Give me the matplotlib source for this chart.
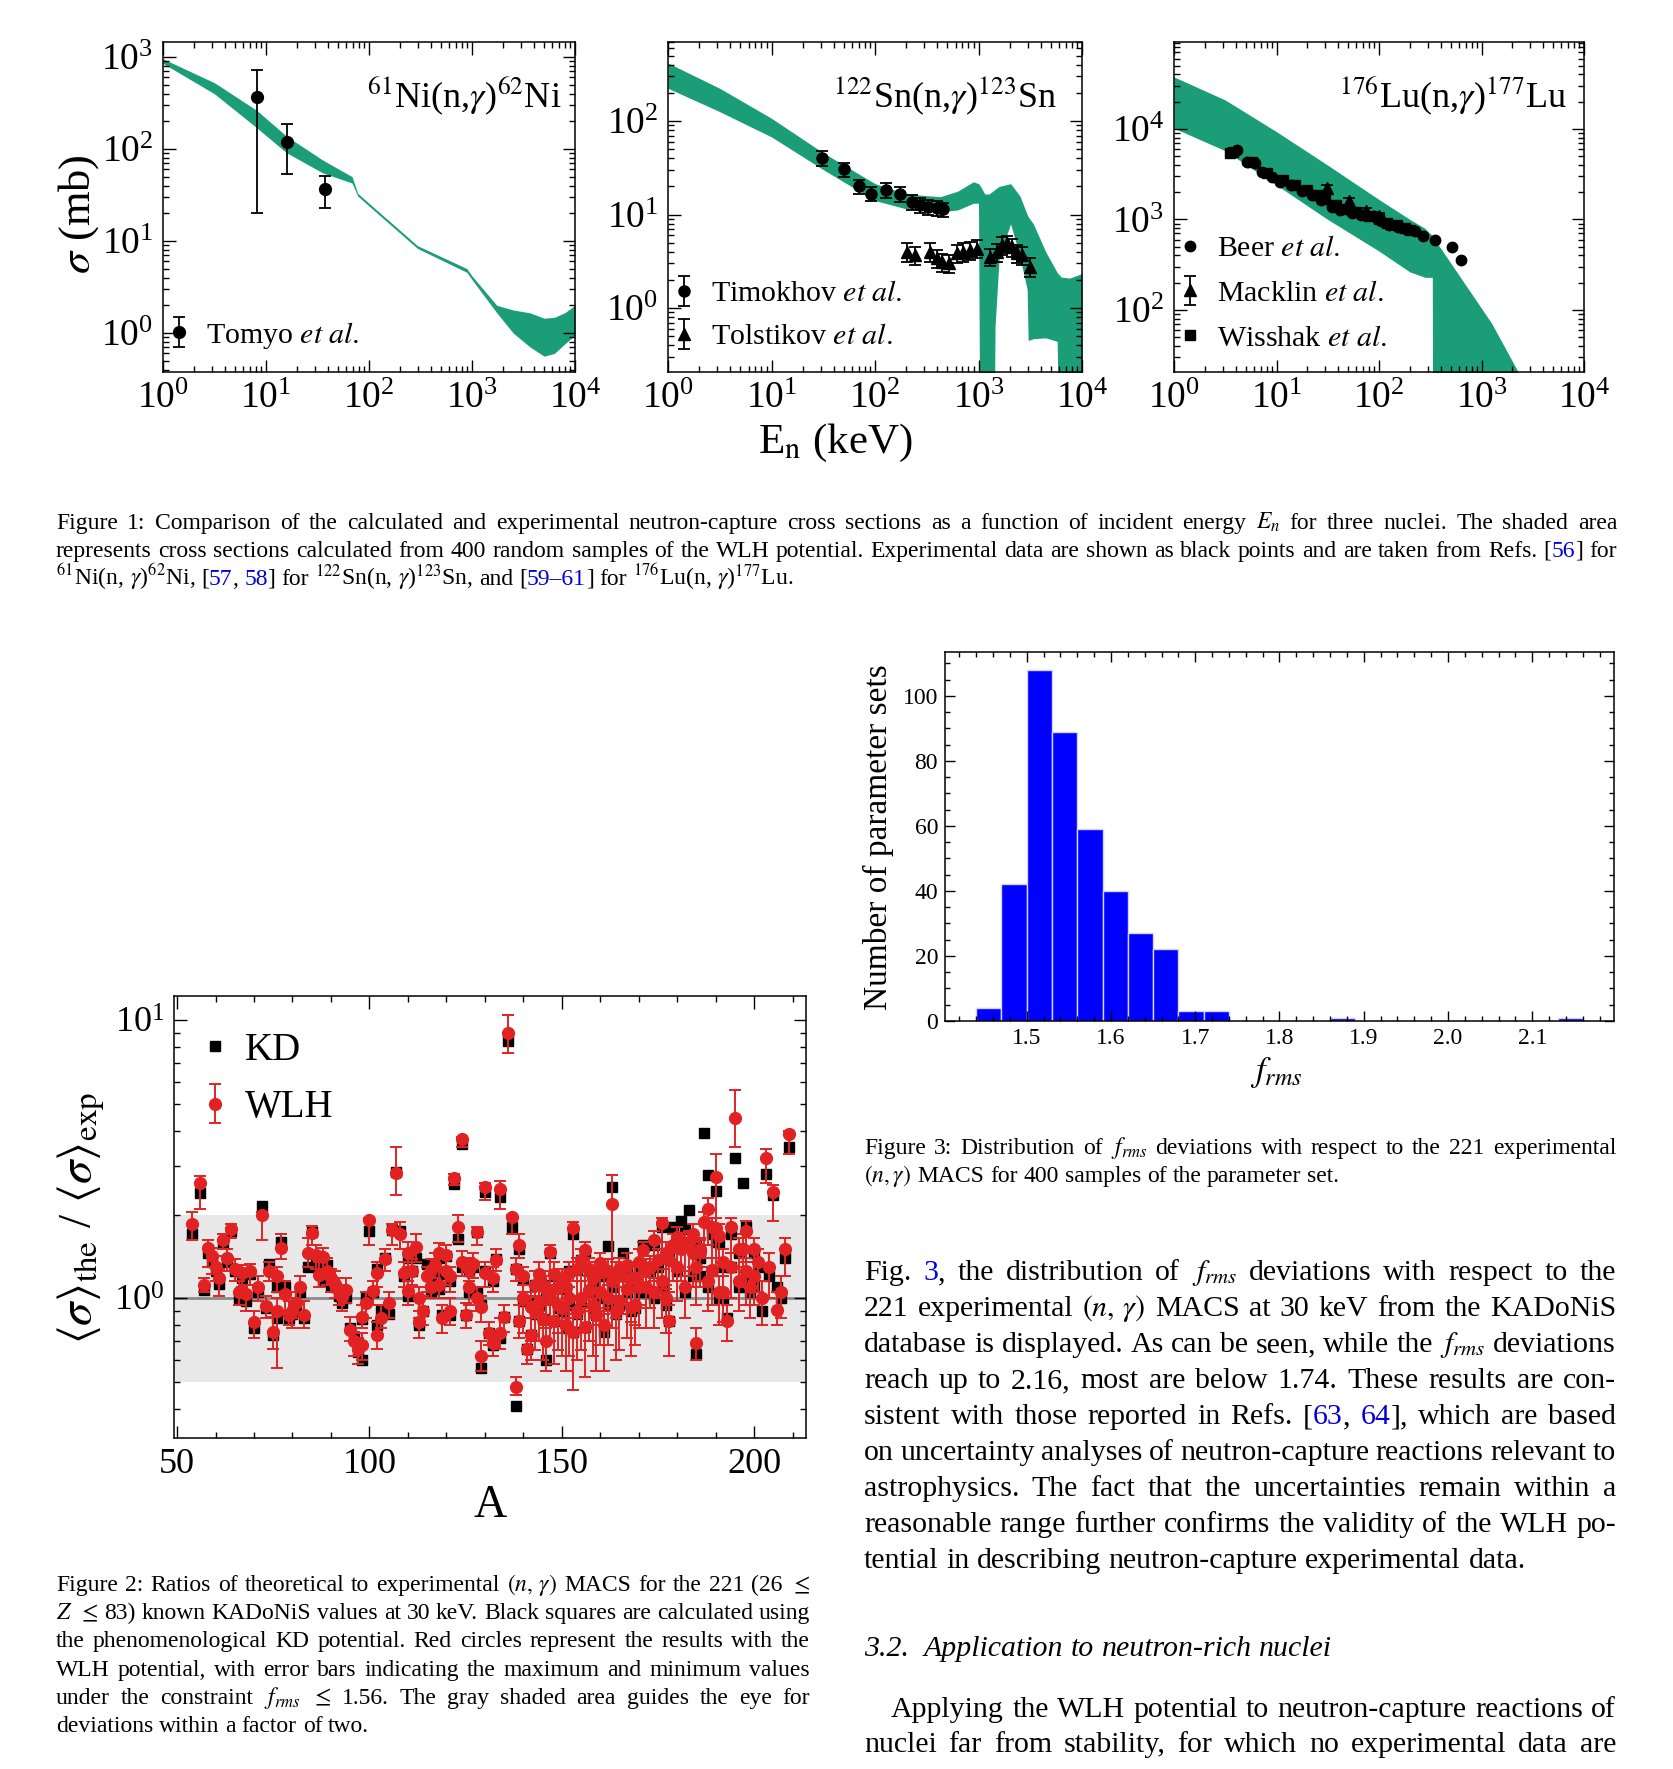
import matplotlib
matplotlib.use("Agg")
import numpy as np
import matplotlib.pyplot as plt
from matplotlib.ticker import LogLocator, MultipleLocator, NullFormatter

plt.rcParams["font.family"] = ["Liberation Serif", "DejaVu Serif"]
plt.rcParams["mathtext.fontset"] = "stix"

W, H = 1673, 1769
GREEN = "#1b9e77"
RED = "#e22222"
LINK = "#0000dd"

# ---------------- Figure 1 data (E in keV, sigma in mb) ----------------
ni_E = [1, 3.16, 8.13, 15.8, 35.5, 68.4, 72.4, 77.6, 100, 295, 891, 1000, 1740, 2510, 3630, 5010, 6310, 7940, 10000]
ni_up = [955, 525, 263, 138, 75.9, 50.1, 41.7, 33.1, 25.7, 8.91, 5.01, 4.17, 2.00, 1.78, 1.66, 1.45, 1.48, 1.66, 2.00]
ni_lo = [851, 398, 170, 91.2, 55.0, 42.7, 37.2, 30.9, 24.0, 8.32, 4.57, 3.80, 1.66, 1.00, 0.71, 0.56, 0.60, 0.76, 0.95]
tomyo_E = [8.1, 16.1, 37.4]
tomyo_s = [370, 118, 36.5]
tomyo_min = [20, 54, 23]
tomyo_max = [720, 186, 51]

sn_E = [1, 3.16, 10, 31.6, 100, 200, 427, 631, 891, 1000, 1047, 1148, 1259, 1380, 1445, 1585,
        2042, 2512, 2951, 3020, 3388, 4467, 5754, 6310, 7586, 10000]
sn_up = [417, 224, 107, 45.7, 21.4, 16.6, 15.5, 17.8, 22.4, 21.4, 20.0, 16.6, 16.6, 17.8, 18.6, 20.0,
         21.4, 15.8, 10.0, 9.5, 7.94, 3.98, 2.40, 2.14, 2.09, 2.34]
sn_lo = [224, 126, 67.6, 30.2, 14.1, 11.5, 10.7, 11.2, 13.2, 13.2, 1e-3, 1e-3, 1e-3, 1e-3, 0.63, 3.55,
         7.94, 3.55, 1.58, 0.45, 0.47, 0.48, 0.44, 1e-3, 1e-3, 1e-3]
timokhov_E = [30.5, 50, 70.6, 90.8, 127, 173, 226, 272, 327, 394, 457]
timokhov_s = [40.5, 30.4, 20.0, 16.7, 18.3, 16.5, 13.7, 12.6, 12.1, 11.7, 11.4]
timokhov_min = [33, 25, 16.5, 13.8, 15.0, 13.6, 11.3, 10.4, 10.0, 9.7, 9.5]
timokhov_max = [48, 36, 23.5, 19.8, 21.6, 19.5, 16.2, 14.9, 14.3, 13.8, 13.4]
tolstikov_E = [202, 243, 340, 394, 441, 522, 615, 713, 828, 957, 1290, 1500, 1680, 1870, 2100, 2350, 2620, 3160]
tolstikov_s = [3.98, 3.69, 3.98, 3.39, 3.12, 3.00, 3.84, 4.00, 4.17, 4.33, 3.54, 3.98, 4.70, 4.90, 4.50, 3.84, 3.70, 2.77]
tolstikov_min = [3.1, 2.9, 3.1, 2.65, 2.45, 2.35, 3.0, 3.1, 3.25, 3.4, 2.8, 3.1, 3.7, 3.85, 3.5, 3.0, 2.9, 2.15]
tolstikov_max = [4.9, 4.5, 4.9, 4.15, 3.8, 3.65, 4.7, 4.9, 5.1, 5.3, 4.3, 4.85, 5.7, 5.95, 5.5, 4.7, 4.5, 3.4]

lu_E = [1, 3.16, 10, 31.6, 100, 200, 282, 331, 339, 631, 1259, 2291, 3162]
lu_up = [37600, 20900, 9330, 3980, 1660, 1000, 794, 661, 631, 224, 70.8, 20.4, 11.2]
lu_lo = [10200, 5750, 2400, 1000, 447, 263, 229, 229, 1e-3, 1e-3, 1e-3, 1e-3, 1e-3]
beer_E = [4.1, 5.2, 6.2, 7.2, 9.1, 10.9, 13.7, 17.9, 22.4, 27, 35, 42, 55, 67, 90, 105, 126, 153, 183, 222, 270, 355, 520, 630]
beer_s = [5900, 4360, 4170, 3370, 2970, 2620, 2410, 2040, 1880, 1650, 1380, 1260, 1170, 1120, 1080, 950, 870, 830,
          780, 740, 650, 590, 490, 355]
wisshak_E = [3.5, 3.8, 5.8, 8.0, 11.5, 15, 20, 25, 30, 38, 48, 60, 80, 100, 120, 150, 180, 200]
wisshak_s = [5370, 5600, 4300, 3300, 2700, 2400, 2100, 1850, 1700, 1450, 1300, 1200, 1100, 1000, 920, 860, 800, 760]
macklin_E = [31.4, 51, 75, 100]
macklin_s = [2200, 1580, 1230, 1100]
macklin_min = [2030, 1460, 1135, 1015]
macklin_max = [2380, 1710, 1330, 1190]

# ---------------- Figure 2 data ----------------
mass_A = [54, 56, 57, 58, 59, 60, 61, 62, 63, 64,
          65, 66, 67, 68, 69, 70, 71, 72, 73, 74,
          75, 76, 76, 77, 78, 79, 80, 81, 82, 83,
          84, 85, 86, 87, 88, 89, 90, 91, 92, 93,
          94, 95, 96, 97, 98, 98, 99, 100, 101, 102,
          102, 103, 104, 105, 106, 107, 108, 109, 110, 111,
          112, 113, 113, 114, 115, 116, 117, 118, 119, 120,
          121, 121, 122, 123, 124, 124, 125, 126, 127, 128,
          129, 129, 130, 130, 131, 132, 133, 134, 134, 135,
          136, 137, 138, 138, 139, 139, 140, 141, 142, 142,
          143, 144, 145, 145, 146, 147, 147, 148, 149, 150,
          150, 151, 152, 152, 153, 153, 154, 155, 155, 156,
          156, 157, 158, 159, 160, 160, 161, 162, 163, 163,
          164, 165, 166, 167, 168, 169, 170, 171, 172, 173,
          174, 175, 176, 176, 177, 178, 178, 179, 180, 181,
          182, 183, 184, 185, 185, 186, 187, 188, 189, 190,
          190, 191, 192, 193, 194, 195, 196, 197, 198, 199,
          200, 201, 202, 203, 204, 205, 206, 207, 208, 209,
          110, 116, 118, 120, 126, 128, 132, 140, 143, 144,
          146, 148, 149, 151, 154, 157, 158, 159, 161, 162,
          164, 165, 167, 168, 169, 170, 172, 174, 177, 180,
          182, 184, 186, 188, 189, 191, 192, 194, 196, 198, 200]
kd_ratio = [1.70, 2.40, 1.07, 1.45, 1.35, 1.25, 1.13, 1.60, 1.35, 1.75,
            1.25, 1.00, 1.18, 0.98, 1.22, 0.78, 1.05, 2.15, 0.92, 1.33,
            0.74, 1.10, 0.85, 1.60, 1.10, 0.85, 0.88, 0.90, 1.05, 0.85,
            1.30, 1.73, 1.40, 1.30, 1.15, 1.32, 1.12, 1.10, 1.02, 0.96,
            1.00, 0.78, 0.72, 0.64, 0.60, 0.84, 1.00, 1.75, 1.05, 1.28,
            0.80, 0.90, 1.40, 0.88, 1.76, 2.84, 1.75, 1.20, 1.40, 1.25,
            1.40, 0.82, 0.80, 0.90, 1.33, 1.20, 1.25, 1.40, 0.87, 1.42,
            0.87, 1.15, 2.58, 1.64, 3.60, 1.30, 0.87, 1.05, 1.30, 1.73,
            0.56, 0.95, 2.42, 1.25, 0.75, 0.68, 1.39, 2.31, 0.72, 0.86,
            8.40, 1.80, 0.41, 1.28, 1.50, 0.83, 1.18, 0.66, 0.96, 0.74,
            1.12, 0.95, 0.84, 1.12, 0.60, 1.45, 1.00, 0.83, 1.09, 0.90,
            1.12, 0.78, 1.25, 0.95, 1.70, 0.76, 1.26, 1.37, 0.98, 1.45,
            0.79, 1.05, 1.15, 0.87, 1.32, 1.00, 0.76, 1.54, 2.51, 1.10,
            1.20, 0.95, 1.46, 1.05, 0.90, 1.15, 1.30, 1.56, 1.05, 1.25,
            1.55, 1.30, 1.80, 1.10, 0.95, 1.45, 0.83, 1.80, 1.60, 1.90,
            1.78, 2.07, 1.20, 0.63, 1.55, 1.20, 3.93, 2.77, 1.25, 2.44,
            1.60, 1.00, 1.30, 0.85, 1.30, 3.20, 1.10, 2.60, 1.20, 1.05,
            1.45, 1.30, 0.90, 2.80, 1.20, 2.36, 1.10, 1.00, 1.40, 3.50,
            1.02, 1.05, 1.08, 1.22, 1.25, 1.05, 1.15, 0.98, 0.88, 1.20,
            1.05, 1.20, 0.92, 1.08, 0.88, 1.25, 0.92, 1.20, 1.20, 0.95,
            0.88, 1.25, 1.30, 1.15, 0.92, 1.05, 1.30, 1.00, 1.40, 1.25,
            1.05, 1.60, 1.40, 1.10, 1.70, 1.60, 1.00, 1.70, 1.45, 1.80, 1.10]
wlh_ratio = [1.85, 2.60, 1.12, 1.52, 1.42, 1.30, 1.18, 1.62, 1.40, 1.78,
             1.28, 1.05, 1.23, 1.04, 1.25, 0.82, 1.10, 2.00, 0.94, 1.25,
             0.76, 1.20, 0.90, 1.52, 1.04, 0.87, 0.90, 0.96, 1.10, 0.87,
             1.45, 1.72, 1.43, 1.21, 1.41, 1.25, 1.18, 1.13, 1.06, 1.01,
             1.07, 0.77, 0.70, 0.66, 0.68, 0.86, 0.96, 1.92, 1.06, 1.23,
             0.74, 0.85, 1.39, 0.96, 1.76, 2.81, 1.70, 1.23, 1.45, 1.25,
             1.53, 1.00, 0.82, 0.90, 1.20, 1.26, 1.32, 1.45, 0.85, 1.43,
             0.90, 1.20, 2.70, 1.81, 3.74, 1.35, 0.87, 1.10, 1.33, 1.73,
             0.62, 0.93, 2.51, 1.23, 0.75, 0.69, 1.37, 2.47, 0.75, 0.86,
             9.00, 1.96, 0.48, 1.28, 1.55, 0.83, 1.20, 0.66, 0.93, 0.74,
             1.12, 0.97, 0.84, 1.12, 0.70, 1.47, 1.00, 0.83, 1.09, 0.92,
             1.15, 0.80, 1.23, 1.00, 1.79, 0.76, 1.28, 1.37, 1.00, 1.49,
             0.79, 1.07, 1.18, 0.87, 1.34, 1.05, 0.80, 1.25, 2.18, 1.15,
             1.22, 0.98, 1.20, 1.08, 0.93, 1.18, 1.35, 1.49, 1.10, 1.30,
             1.62, 1.37, 1.87, 1.15, 1.00, 1.37, 0.83, 1.55, 1.66, 1.50,
             1.57, 1.60, 1.45, 0.69, 1.30, 1.47, 1.88, 2.10, 1.26, 2.74,
             1.79, 1.05, 1.35, 0.83, 1.30, 4.44, 1.15, 1.50, 1.25, 1.10,
             1.50, 1.35, 1.00, 3.20, 1.30, 2.42, 0.91, 1.05, 1.50, 3.90,
             1.06, 1.10, 1.12, 1.25, 1.27, 1.00, 1.18, 1.00, 0.90, 1.22,
             1.08, 1.22, 0.95, 1.10, 0.90, 1.28, 0.95, 1.22, 1.25, 1.00,
             0.90, 1.28, 1.32, 1.18, 0.95, 1.10, 1.25, 1.05, 1.45, 1.30,
             1.10, 1.70, 1.50, 1.15, 1.80, 1.68, 1.05, 1.80, 1.50, 1.75, 1.20]
wlh_min = [1.62, 2.10, 1.05, 1.30, 1.22, 1.15, 1.02, 1.50, 1.25, 1.65,
           1.15, 0.95, 1.10, 0.90, 1.12, 0.72, 0.98, 1.62, 0.85, 1.15,
           0.66, 1.05, 0.56, 1.38, 0.90, 0.80, 0.78, 0.85, 0.98, 0.78,
           1.30, 1.55, 1.28, 1.10, 1.22, 1.12, 1.05, 1.00, 0.95, 0.90,
           0.96, 0.70, 0.62, 0.58, 0.60, 0.78, 0.85, 1.55, 0.95, 1.10,
           0.66, 0.78, 1.25, 0.85, 1.55, 2.35, 1.50, 1.10, 1.30, 1.12,
           1.35, 0.85, 0.72, 0.80, 1.05, 1.12, 1.18, 1.30, 0.75, 1.30,
           0.80, 1.05, 2.55, 1.60, 3.50, 1.20, 0.78, 0.95, 1.18, 1.55,
           0.55, 0.82, 2.25, 1.10, 0.68, 0.62, 1.25, 2.10, 0.66, 0.76,
           7.60, 1.70, 0.45, 1.15, 1.40, 0.72, 1.05, 0.58, 0.70, 0.60,
           0.85, 0.70, 0.60, 0.85, 0.55, 1.05, 0.70, 0.58, 0.75, 0.62,
           0.80, 0.55, 0.85, 0.62, 1.15, 0.47, 0.85, 0.95, 0.65, 1.00,
           0.52, 0.70, 0.80, 0.55, 0.90, 0.68, 0.55, 0.90, 1.00, 0.78,
           0.85, 0.65, 0.88, 0.72, 0.62, 0.80, 0.95, 1.10, 0.78, 0.92,
           1.15, 1.00, 1.35, 0.85, 0.75, 1.05, 0.62, 1.15, 1.25, 1.15,
           1.20, 1.20, 1.10, 0.60, 0.95, 1.10, 1.40, 1.55, 0.95, 1.78,
           1.30, 0.80, 1.05, 0.70, 1.00, 3.50, 0.90, 1.10, 0.95, 0.85,
           1.15, 1.05, 0.80, 2.60, 1.00, 1.90, 0.80, 0.85, 1.20, 3.30,
           0.95, 1.00, 1.00, 1.12, 1.15, 0.90, 1.05, 0.75, 0.65, 0.90,
           0.78, 0.85, 0.65, 0.78, 0.60, 0.90, 0.62, 0.85, 0.88, 0.68,
           0.60, 0.90, 0.95, 0.82, 0.68, 0.78, 0.92, 0.78, 1.08, 0.98,
           0.85, 1.30, 1.15, 0.90, 1.40, 1.30, 0.82, 1.45, 1.15, 1.35, 0.95]
wlh_max = [2.04, 2.75, 1.18, 1.62, 1.52, 1.42, 1.28, 1.70, 1.50, 1.85,
           1.38, 1.15, 1.32, 1.12, 1.33, 0.90, 1.20, 2.05, 1.02, 1.35,
           0.86, 1.30, 1.00, 1.70, 1.15, 0.98, 1.00, 1.05, 1.20, 0.98,
           1.65, 1.82, 1.55, 1.35, 1.52, 1.40, 1.28, 1.25, 1.18, 1.12,
           1.18, 0.86, 0.76, 0.72, 0.75, 0.95, 1.05, 1.95, 1.15, 1.35,
           0.82, 0.95, 1.50, 1.05, 1.85, 3.50, 1.88, 1.35, 1.60, 1.38,
           1.70, 1.10, 0.90, 1.02, 1.30, 1.38, 1.45, 1.58, 0.95, 1.55,
           1.00, 1.30, 2.80, 2.00, 3.80, 1.48, 0.96, 1.20, 1.45, 1.80,
           0.70, 1.02, 2.60, 1.35, 0.82, 0.76, 1.50, 2.65, 0.85, 0.95,
           10.40, 2.00, 0.52, 1.40, 1.70, 0.95, 1.30, 0.75, 1.05, 0.85,
           1.25, 1.10, 0.95, 1.25, 0.80, 1.55, 1.12, 0.95, 1.20, 1.05,
           1.28, 0.92, 1.35, 1.10, 1.88, 0.88, 1.40, 1.50, 1.15, 1.60,
           0.92, 1.20, 1.30, 1.00, 1.45, 1.18, 0.92, 1.38, 2.78, 1.28,
           1.35, 1.10, 1.32, 1.20, 1.05, 1.30, 1.50, 1.60, 1.22, 1.42,
           1.75, 1.50, 1.95, 1.28, 1.12, 1.50, 0.95, 1.70, 1.80, 1.65,
           1.72, 1.75, 1.60, 0.78, 1.45, 1.62, 2.05, 2.30, 1.40, 3.31,
           1.95, 1.20, 1.50, 0.95, 1.45, 5.60, 1.30, 1.70, 1.40, 1.25,
           1.65, 1.50, 1.15, 3.45, 1.45, 2.55, 1.05, 1.20, 1.65, 4.00,
           1.15, 1.22, 1.25, 1.38, 1.40, 1.10, 1.30, 1.12, 1.02, 1.35,
           1.20, 1.35, 1.05, 1.22, 1.02, 1.40, 1.08, 1.35, 1.38, 1.12,
           1.02, 1.40, 1.45, 1.30, 1.08, 1.22, 1.38, 1.18, 1.60, 1.45,
           1.25, 1.85, 1.65, 1.30, 1.95, 1.85, 1.20, 1.95, 1.65, 1.90, 1.35]
factor_two = (0.5, 2.0)

# ---------------- Figure 3 data ----------------
frms_left = [1.44, 1.47, 1.50, 1.53, 1.56, 1.59, 1.62, 1.65, 1.68, 1.71, 1.86, 2.13]
frms_count = [4, 42, 108, 89, 59, 40, 27, 22, 3, 3, 1, 1]
bin_width = 0.03

# ---------------- page text ----------------
caption1 = [
    "Figure 1: Comparison of the calculated and experimental neutron-capture cross sections as a function of incident energy $E_n$ for three nuclei. The shaded area",
    "represents cross sections calculated from 400 random samples of the WLH potential. Experimental data are shown as black points and are taken from Refs. [§56§] for",
    "$^{61}$Ni(n, $\\gamma$)$^{62}$Ni, [§57§, §58§] for $^{122}$Sn(n, $\\gamma$)$^{123}$Sn, and [§59–61§] for $^{176}$Lu(n, $\\gamma$)$^{177}$Lu.",
]
caption2 = [
    "Figure 2: Ratios of theoretical to experimental $(n,\\,\\gamma)$ MACS for the 221 (26 $\\leq$",
    "$Z$ $\\leq$ 83) known KADoNiS values at 30 keV. Black squares are calculated using",
    "the phenomenological KD potential. Red circles represent the results with the",
    "WLH potential, with error bars indicating the maximum and minimum values",
    "under the constraint $f_{rms}$ $\\leq$ 1.56. The gray shaded area guides the eye for",
    "deviations within a factor of two.",
]
caption3 = [
    "Figure 3: Distribution of $f_{rms}$ deviations with respect to the 221 experimental",
    "$(n,\\gamma)$ MACS for 400 samples of the parameter set.",
]
body = [
    "Fig. §3§, the distribution of $f_{rms}$ deviations with respect to the",
    "221 experimental $(n,\\,\\gamma)$ MACS at 30 keV from the KADoNiS",
    "database is displayed. As can be seen, while the $f_{rms}$ deviations",
    "reach up to 2.16, most are below 1.74. These results are con-",
    "sistent with those reported in Refs. [§63§, §64§], which are based",
    "on uncertainty analyses of neutron-capture reactions relevant to",
    "astrophysics. The fact that the uncertainties remain within a",
    "reasonable range further confirms the validity of the WLH po-",
    "tential in describing neutron-capture experimental data.",
]
heading = "3.2.  Application to neutron-rich nuclei"
body2 = [
    "Applying the WLH potential to neutron-capture reactions of",
    "nuclei far from stability, for which no experimental data are",
]

fig = plt.figure(figsize=(W / 100, H / 100), dpi=100)


def frame(l, t, r, b):
    return fig.add_axes([l / W, 1 - b / H, (r - l) / W, (b - t) / H])


def ticks(ax, size, pad):
    ax.tick_params(which="both", direction="in", top=True, right=True, width=1.0,
                   labelsize=size, pad=pad)
    ax.tick_params(which="major", length=9)
    ax.tick_params(which="minor", length=4.5)
    for s in ax.spines.values():
        s.set_linewidth(1.1)


def logaxes(ax, ylim):
    ax.set_xscale("log")
    ax.set_yscale("log")
    ax.set_xlim(1, 1e4)
    ax.set_ylim(*ylim)
    for axis in (ax.xaxis, ax.yaxis):
        axis.set_major_locator(LogLocator(base=10, numticks=20))
        axis.set_minor_locator(LogLocator(base=10, subs=np.arange(2, 10), numticks=20))
        axis.set_minor_formatter(NullFormatter())
    ticks(ax, 27, 7)


def errs(vals, lo, hi):
    return [[v - a for v, a in zip(vals, lo)], [b - v for v, b in zip(vals, hi)]]


ebar = dict(color="k", ls="none", capsize=4, elinewidth=1.3, capthick=1.3)
leg = dict(frameon=False, fontsize=21.5, handlelength=1.1, handletextpad=0.33,
           borderpad=0, borderaxespad=0, loc="center left")

# panel 1: Ni
ax = frame(163, 42, 575, 372)
logaxes(ax, (0.377, 1455))
ax.fill_between(ni_E, ni_lo, ni_up, color=GREEN, lw=0)
ax.errorbar(tomyo_E, tomyo_s, yerr=errs(tomyo_s, tomyo_min, tomyo_max), marker="o", ms=8.5,
            label=r"Tomyo $\mathit{et\ al.}$", **ebar)
ax.legend(bbox_to_anchor=(0.0, 0.112), **leg)
ax.text(0.968, 0.836, r"$^{61}$Ni(n,$\gamma$)$^{62}$Ni", transform=ax.transAxes, ha="right", va="center", fontsize=26)

# panel 2: Sn
ax = frame(668, 42, 1082, 372)
logaxes(ax, (0.207, 700))
ax.fill_between(sn_E, sn_lo, sn_up, color=GREEN, lw=0)
ax.errorbar(timokhov_E, timokhov_s, yerr=errs(timokhov_s, timokhov_min, timokhov_max), marker="o", ms=8,
            label=r"Timokhov $\mathit{et\ al.}$", **ebar)
ax.errorbar(tolstikov_E, tolstikov_s, yerr=errs(tolstikov_s, tolstikov_min, tolstikov_max), marker="^", ms=8,
            label=r"Tolstikov $\mathit{et\ al.}$", **ebar)
ax.legend(bbox_to_anchor=(0.0, 0.172), labelspacing=0.55, **leg)
ax.text(0.940, 0.836, r"$^{122}$Sn(n,$\gamma$)$^{123}$Sn", transform=ax.transAxes, ha="right", va="center", fontsize=26)

# panel 3: Lu
ax = frame(1174, 42, 1584, 372)
logaxes(ax, (20.6, 91400))
ax.fill_between(lu_E, lu_lo, lu_up, color=GREEN, lw=0)
h1, = ax.plot(beer_E, beer_s, "o", color="k", ms=7.5)
h3, = ax.plot(wisshak_E, wisshak_s, "s", color="k", ms=6.5)
h2 = ax.errorbar(macklin_E, macklin_s, yerr=errs(macklin_s, macklin_min, macklin_max), marker="^", ms=8, **ebar)
ax.legend([h1, h2, h3], [r"Beer $\mathit{et\ al.}$", r"Macklin $\mathit{et\ al.}$", r"Wisshak $\mathit{et\ al.}$"],
          bbox_to_anchor=(0.0, 0.238), labelspacing=0.6, **leg)
ax.text(0.958, 0.836, r"$^{176}$Lu(n,$\gamma$)$^{177}$Lu", transform=ax.transAxes, ha="right", va="center", fontsize=26)

fig.text(835 / W, 1 - 443 / H, r"E$_{\rm n}$ (keV)", ha="center", va="center", fontsize=31)
fig.text(79 / W, 1 - 214 / H, r"$\sigma$ (mb)", ha="center", va="center", rotation=90, fontsize=32)

# ---------------- Figure 2 ----------------
ax = frame(174, 996, 806, 1438)
ax.set_yscale("log")
ax.set_xlim(49.2, 213.5)
ax.set_ylim(0.315, 12.2)
ax.axhspan(factor_two[0], factor_two[1], color="#e8e8e8", lw=0, zorder=0)
ax.axhline(1.0, color="#8a8a8a", lw=2, zorder=1)
ax.plot(mass_A, kd_ratio, "s", color="k", ms=7.5, zorder=2, label="KD")
ax.errorbar(mass_A, wlh_ratio, yerr=errs(wlh_ratio, wlh_min, wlh_max), fmt="o", color=RED, ms=8.5,
            capsize=4.5, elinewidth=1.4, capthick=1.4, zorder=3, label="WLH")
ax.xaxis.set_major_locator(MultipleLocator(50))
ax.xaxis.set_minor_locator(MultipleLocator(10))
ax.yaxis.set_major_locator(LogLocator(base=10, numticks=20))
ax.yaxis.set_minor_locator(LogLocator(base=10, subs=np.arange(2, 10), numticks=20))
ax.yaxis.set_minor_formatter(NullFormatter())
ticks(ax, 26, 7)
ax.legend(loc="center left", bbox_to_anchor=(0.036, 0.812), frameon=False, fontsize=28, handlelength=0.95,
          handletextpad=0.3, labelspacing=0.52, borderpad=0, borderaxespad=0)
fig.text(490 / W, 1 - 1506 / H, "A", ha="center", va="center", fontsize=33)
fig.text(81 / W, 1 - 1218 / H, r"$\langle\sigma\rangle_{\rm the}$ / $\langle\sigma\rangle_{\rm exp}$",
         ha="center", va="center", rotation=90, fontsize=34)

# ---------------- Figure 3 ----------------
ax = frame(945, 652, 1614, 1021)
ax.bar(frms_left, frms_count, width=bin_width, align="edge", color="#0000ff", edgecolor="#d4d4ff", linewidth=1.0)
ax.set_xlim(1.403, 2.197)
ax.set_ylim(0, 113.5)
ax.xaxis.set_major_locator(MultipleLocator(0.1))
ax.xaxis.set_minor_locator(MultipleLocator(0.02))
ax.yaxis.set_major_locator(MultipleLocator(20))
ax.yaxis.set_minor_locator(MultipleLocator(5))
ticks(ax, 17, 5)
ax.tick_params(which="major", length=7)
ax.tick_params(which="minor", length=3.5)
fig.text(878 / W, 1 - 837 / H, "Number of parameter sets", ha="center", va="center", rotation=90, fontsize=24)
fig.text(1276 / W, 1 - 1072 / H, r"$f_{rms}$", ha="center", va="center", fontsize=25)

# ---------------- justified page text ----------------
renderer = fig.canvas.get_renderer()


def space(size):
    a = fig.text(0, 0, "x x", fontsize=size)
    b = fig.text(0, 0, "xx", fontsize=size)
    w = a.get_window_extent(renderer).width - b.get_window_extent(renderer).width
    a.remove()
    b.remove()
    return w


def put_line(x0, x1, y, line, size, justify=True, italic=False):
    words = []
    total = 0.0
    for word in line.split(" "):
        objs = []
        for i, chunk in enumerate(word.split("§")):
            if not chunk:
                continue
            t = fig.text(0, 1 - y / H, chunk, fontsize=size, color=LINK if i % 2 else "black",
                         fontstyle="italic" if italic else "normal", ha="left", va="baseline")
            w = t.get_window_extent(renderer).width
            objs.append((t, w))
            total += w
        words.append(objs)
    gap = space(size)
    if justify and len(words) > 1:
        gap = (x1 - x0 - total) / (len(words) - 1)
    x = x0
    for objs in words:
        for t, w in objs:
            t.set_x(x / W)
            x += w
        x += gap


def paragraph(x0, x1, y0, step, lines, size):
    for i, line in enumerate(lines):
        put_line(x0, x1, y0 + i * step, line, size, justify=i < len(lines) - 1)


paragraph(56, 1617, 529, 28, caption1, 17)
paragraph(56, 810, 1591, 28.2, caption2, 17)
paragraph(864, 1616, 1154, 28, caption3, 17)
paragraph(864, 1616, 1280, 36, body, 21.5)
put_line(864, 1616, 1656, heading, 21.5, justify=False, italic=True)
put_line(891, 1616, 1717, body2[0], 21.5)
put_line(864, 1616, 1752, body2[1], 21.5)

fig.savefig("out.png", dpi=100)
